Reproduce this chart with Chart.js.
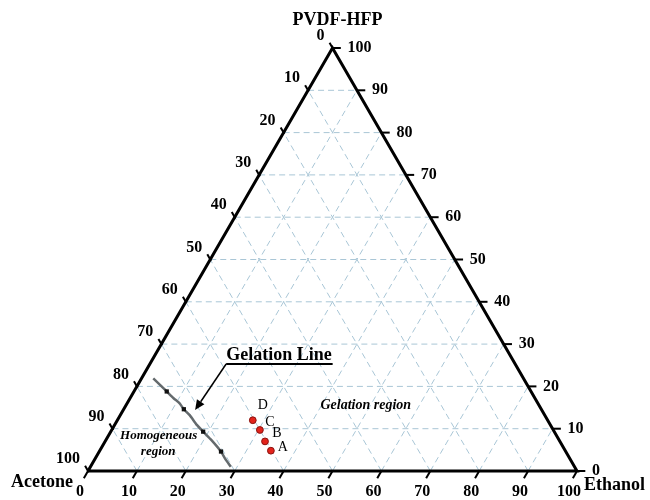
<!DOCTYPE html>
<html>
<head>
<meta charset="utf-8">
<script src="https://cdn.jsdelivr.net/npm/chart.js@4.4.1/dist/chart.umd.min.js"></script>
<style>
  html, body { margin: 0; padding: 0; background: #ffffff; }
  #wrap { width: 650px; height: 500px; }
</style>
</head>
<body>
<div id="wrap"><canvas id="ternary" width="650" height="500"></canvas></div>
<script>
// Axis tick values (mass %), shared by the three sides of the diagram
const tickValues = [0, 10, 20, 30, 40, 50, 60, 70, 80, 90, 100];
const gridValues = [10, 20, 30, 40, 50, 60, 70, 80, 90];

// Corner names
const cornerTop = 'PVDF-HFP';
const cornerLeft = 'Acetone';
const cornerRight = 'Ethanol';

// Gelation line trace: ethanol % and PVDF-HFP % (acetone is the balance)
const gelLineEthanol = [2.4, 6.7, 8.9, 10.6, 12.3, 14.2, 16.8, 18.9, 21.6, 24.9, 26.5, 28.7];
const gelLinePolymer = [21.9, 18.8, 17.2, 16.1, 14.6, 13.2, 10.9, 9.3, 7.3, 4.6, 3.0, 1.0];

// Measured cloud points on the gelation line
const cloudEthanol = [6.7, 12.3, 18.9, 24.9];
const cloudPolymer = [18.8, 14.6, 9.3, 4.6];

// Casting solutions A-D
const sampleNames = ['A', 'B', 'C', 'D'];
const sampleEthanol = [35.0, 32.7, 30.3, 27.7];
const samplePolymer = [4.8, 7.0, 9.7, 12.0];

// Ternary composition -> cartesian (side length 100)
const H = Math.sqrt(3) / 2;
function toXY(ethanol, polymer) {
  return { x: ethanol + polymer / 2, y: polymer * H };
}

const datasets = [];
function segment(points, style) {
  datasets.push(Object.assign({
    data: points,
    showLine: true,
    pointRadius: 0,
    fill: false,
    clip: false,
    borderWidth: 1,
    borderColor: '#000'
  }, style));
}

// Dashed grid, one family per component (drawn underneath everything)
const gridStyle = { borderColor: '#a9c6d6', borderWidth: 1, borderDash: [6, 4], order: 10 };
gridValues.forEach(v => {
  segment([toXY(0, v), toXY(100 - v, v)], gridStyle);            // constant PVDF-HFP
  segment([toXY(v, 0), toXY(v, 100 - v)], gridStyle);            // constant ethanol
  segment([toXY(100 - v, 0), toXY(0, 100 - v)], gridStyle);      // constant acetone
});

// Tick marks
const tickStyle = { borderColor: '#000', borderWidth: 2, order: 5 };
tickValues.forEach(v => {
  // bottom (ethanol): slanted down-left
  const b = toXY(v, 0);
  segment([b, { x: b.x - 0.85, y: b.y - 1.5 }], tickStyle);
  // left (acetone): slanted up-left
  const l = toXY(0, 100 - v);
  segment([{ x: l.x + 0.15, y: l.y - 0.26 }, { x: l.x - 0.6, y: l.y + 1.05 }], tickStyle);
  // right (PVDF-HFP): horizontal, outward
  const r = toXY(100 - v, v);
  segment([r, { x: r.x + 1.7, y: r.y }], tickStyle);
});

// Triangle frame
segment([toXY(0, 0), toXY(100, 0), toXY(0, 100), toXY(0, 0)],
  { borderColor: '#000', borderWidth: 3, borderJoinStyle: 'miter', order: 4 });

// Gelation line
segment(gelLineEthanol.map((e, i) => toXY(e, gelLinePolymer[i])),
  { borderColor: '#646a6d', borderWidth: 2.5, tension: 0.2, order: 3 });

// Cloud points
datasets.push({
  data: cloudEthanol.map((e, i) => toXY(e, cloudPolymer[i])),
  showLine: false,
  pointStyle: 'rect',
  pointRadius: 3,
  pointBackgroundColor: '#111',
  pointBorderColor: '#111',
  pointBorderWidth: 0,
  clip: false,
  order: 2
});

// Samples A-D
datasets.push({
  data: sampleEthanol.map((e, i) => toXY(e, samplePolymer[i])),
  showLine: false,
  pointStyle: 'circle',
  pointRadius: 3.4,
  pointBackgroundColor: '#e3231c',
  pointBorderColor: '#8a1410',
  pointBorderWidth: 1,
  clip: false,
  order: 1
});

// Labels, annotations and corner names
const labelPlugin = {
  id: 'ternaryLabels',
  afterDatasetsDraw(chart) {
    const ctx = chart.ctx;
    const xs = chart.scales.x, ys = chart.scales.y;
    const px = (e, p) => {
      const c = toXY(e, p);
      return [xs.getPixelForValue(c.x), ys.getPixelForValue(c.y)];
    };
    ctx.save();
    ctx.fillStyle = '#000';

    // tick labels
    ctx.font = 'bold 16px "Liberation Serif", "Times New Roman", serif';
    tickValues.forEach(v => {
      let [x, y] = px(v, 0);
      ctx.textAlign = 'center'; ctx.textBaseline = 'middle';
      ctx.fillText(String(v), x - 8, y + 21);

      [x, y] = px(0, 100 - v);
      ctx.textAlign = 'right';
      ctx.fillText(String(v), x - 8, y - 12);

      [x, y] = px(100 - v, v);
      ctx.textAlign = 'left';
      ctx.fillText(String(v), x + 15, y);
    });

    // corner names
    ctx.font = 'bold 18px "Liberation Serif", "Times New Roman", serif';
    let [tx, ty] = px(0, 100);
    ctx.textAlign = 'center'; ctx.textBaseline = 'middle';
    ctx.fillText(cornerTop, tx + 5, ty - 28);
    [tx, ty] = px(0, 0);
    ctx.textAlign = 'center';
    ctx.fillText(cornerLeft, tx - 46, ty + 11);
    [tx, ty] = px(100, 0);
    ctx.textAlign = 'left';
    ctx.fillText(cornerRight, tx + 7, ty + 14);

    // region names
    ctx.font = 'italic bold 14px "Liberation Serif", "Times New Roman", serif';
    ctx.textAlign = 'center';
    let [rx, ry] = px(49.0, 15.6);
    ctx.fillText('Gelation region', rx, ry);
    ctx.font = 'italic bold 13px "Liberation Serif", "Times New Roman", serif';
    [rx, ry] = px(10.3, 8.3);
    ctx.fillText('Homogeneous', rx, ry);
    [rx, ry] = px(12.1, 4.5);
    ctx.fillText('region', rx, ry);

    // sample letters
    ctx.font = '14px "Liberation Serif", "Times New Roman", serif';
    const offs = [[12, -3], [12, -8], [10, -8], [10, -15]];
    sampleNames.forEach((n, i) => {
      const [sx, sy] = px(sampleEthanol[i], samplePolymer[i]);
      ctx.textAlign = 'center';
      ctx.fillText(n, sx + offs[i][0], sy + offs[i][1]);
    });

    // "Gelation Line" callout: underlined title with an arrow to the curve
    const [ux, uy] = px(15.6, 25.3);
    const [ax, ay] = px(14.7, 14.4);
    ctx.font = 'bold 18px "Liberation Serif", "Times New Roman", serif';
    ctx.textAlign = 'left'; ctx.textBaseline = 'alphabetic';
    ctx.fillText('Gelation Line', ux, uy - 4);
    const w = ctx.measureText('Gelation Line').width;
    ctx.strokeStyle = '#000';
    ctx.lineWidth = 2;
    ctx.beginPath();
    ctx.moveTo(ux, uy); ctx.lineTo(ux + w + 1, uy);
    ctx.stroke();
    const ang = Math.atan2(ay - uy, ax - ux);
    const headLen = 10, headW = 4.5;
    const bx = ax - headLen * Math.cos(ang), by = ay - headLen * Math.sin(ang);
    ctx.lineWidth = 1.5;
    ctx.beginPath();
    ctx.moveTo(ux, uy); ctx.lineTo(bx, by);
    ctx.stroke();
    ctx.beginPath();
    ctx.moveTo(ax, ay);
    ctx.lineTo(bx + headW * Math.sin(ang), by - headW * Math.cos(ang));
    ctx.lineTo(bx - headW * Math.sin(ang), by + headW * Math.cos(ang));
    ctx.closePath();
    ctx.fill();

    ctx.restore();
  }
};

new Chart(document.getElementById('ternary'), {
  type: 'scatter',
  data: { datasets },
  options: {
    responsive: false,
    animation: false,
    events: [],
    layout: { padding: { left: 88, right: 73, top: 48, bottom: 29 } },
    scales: {
      x: { type: 'linear', min: 0, max: 100, display: false },
      y: { type: 'linear', min: 0, max: 100 * H, display: false }
    },
    plugins: { legend: { display: false }, tooltip: { enabled: false } }
  },
  plugins: [labelPlugin]
});
</script>
</body>
</html>
